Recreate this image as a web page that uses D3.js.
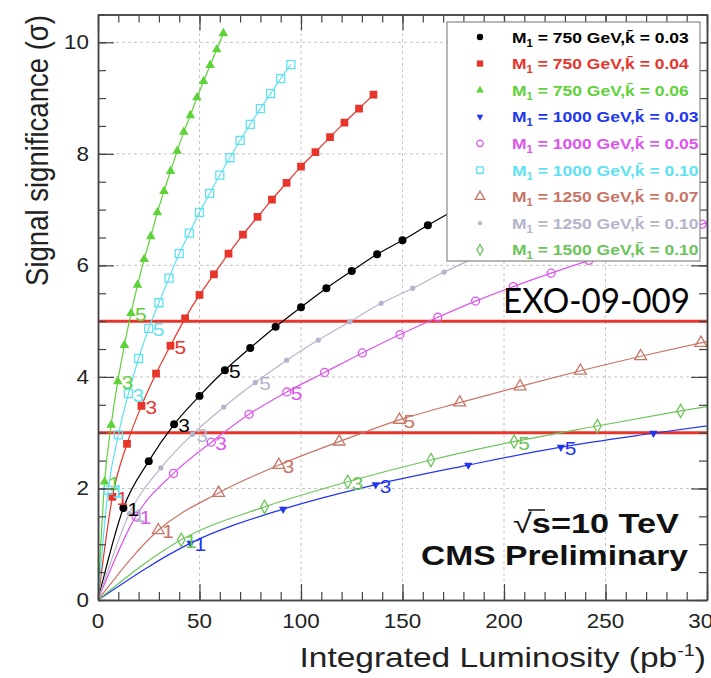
<!DOCTYPE html>
<html><head><meta charset="utf-8">
<script src="https://cdn.jsdelivr.net/npm/d3@7"></script>
<style>body{margin:0;background:#fff} svg{display:block;font-family:"Liberation Sans",Arial,Helvetica,sans-serif}</style>
</head><body><svg id="c" width="711" height="678"></svg>
<script>
// ---------- data ----------
const xTicks = [0, 50, 100, 150, 200, 250, 300];
const yTicks = [0, 2, 4, 6, 8, 10];
const thresholds = [3, 5];
const pointLabels = ["1", "3", "5"];
const labelIndex = [1, 3, 5];

const legendMass  = ["750", "750", "750", "1000", "1000", "1000", "1250", "1250", "1500"];
const legendKappa = ["0.03", "0.04", "0.06", "0.03", "0.05", "0.10", "0.07", "0.10", "0.10"];

const lumi_750_003 = [12.5, 25, 37.5, 50, 62.5, 75, 87.5, 100, 112.5, 125, 137.5, 150, 162.5, 175, 187.5];
const sig_750_003  = [1.65, 2.49, 3.15, 3.66, 4.12, 4.52, 4.90, 5.25, 5.59, 5.90, 6.20, 6.45, 6.72, 6.98, 7.25];

const lumi_750_004 = [7.1, 14.3, 21.4, 28.6, 35.7, 42.9, 50.0, 57.1, 64.3, 71.4, 78.6, 85.7, 92.9, 100.0, 107.1, 114.3, 121.4, 128.6, 135.7];
const sig_750_004  = [1.85, 2.80, 3.48, 4.06, 4.56, 5.05, 5.47, 5.84, 6.21, 6.55, 6.87, 7.18, 7.48, 7.77, 8.03, 8.30, 8.56, 8.81, 9.06];

const lumi_750_006 = [3.25, 6.5, 9.75, 13, 16.25, 19.5, 22.75, 26, 29.25, 32.5, 35.75, 39, 42.25, 45.5, 48.75, 52, 55.25, 58.5, 61.75];
const sig_750_006  = [2.12, 3.14, 3.92, 4.57, 5.14, 5.65, 6.11, 6.52, 6.95, 7.33, 7.69, 8.05, 8.39, 8.69, 9.01, 9.30, 9.59, 9.87, 10.16];

const lumi_1000_003 = [45.6, 91.2, 136.8, 182.4, 228, 273.6, 319.2];
const sig_1000_003  = [1.02, 1.63, 2.07, 2.42, 2.74, 2.99, 3.22];

const lumi_1000_005 = [18.6, 37.2, 55.8, 74.4, 93, 111.6, 130.2, 148.8, 167.4, 186, 204.6, 223.2, 241.8, 260.4, 279, 297.6, 316.2];
const sig_1000_005  = [1.50, 2.27, 2.83, 3.33, 3.73, 4.08, 4.43, 4.76, 5.07, 5.36, 5.62, 5.86, 6.09, 6.31, 6.53, 6.74, 6.95];

const lumi_1000_010 = [5, 10, 15, 20, 25, 30, 35, 40, 45, 50, 55, 60, 65, 70, 75, 80, 85, 90, 95];
const sig_1000_010  = [1.97, 2.96, 3.70, 4.33, 4.87, 5.33, 5.77, 6.21, 6.58, 6.95, 7.29, 7.62, 7.93, 8.24, 8.53, 8.81, 9.08, 9.35, 9.60];

const lumi_1250_007 = [29.7, 59.4, 89.1, 118.8, 148.5, 178.2, 207.9, 237.6, 267.3, 297, 326.7];
const sig_1250_007  = [1.25, 1.92, 2.42, 2.84, 3.23, 3.54, 3.83, 4.11, 4.37, 4.61, 4.84];

const lumi_1250_010 = [15.5, 31, 46.5, 62, 77.5, 93, 108.5, 124, 139.5, 155, 170.5, 186, 201.5];
const sig_1250_010  = [1.55, 2.37, 2.97, 3.46, 3.90, 4.30, 4.66, 4.99, 5.32, 5.59, 5.88, 6.14, 6.40];

const lumi_1500_010 = [41, 82, 123, 164, 205, 246, 287, 328];
const sig_1500_010  = [1.08, 1.67, 2.12, 2.51, 2.84, 3.12, 3.39, 3.64];

// ---------- styles ----------
const series = [
  {L: lumi_750_003,  S: sig_750_003,  color: "#000000", sym: "circle",   fill: true,  size: 50},
  {L: lumi_750_004,  S: sig_750_004,  color: "#e8352c", sym: "square",   fill: true,  size: 60},
  {L: lumi_750_006,  S: sig_750_006,  color: "#5fd23a", sym: "triangle", fill: true,  size: 40},
  {L: lumi_1000_003, S: sig_1000_003, color: "#2236f0", sym: "down",     fill: true,  size: 30},
  {L: lumi_1000_005, S: sig_1000_005, color: "#dc55ee", sym: "circle",   fill: false, size: 50},
  {L: lumi_1000_010, S: sig_1000_010, color: "#5ee2f2", sym: "square",   fill: false, size: 64},
  {L: lumi_1250_007, S: sig_1250_007, color: "#c87466", sym: "triangle", fill: false, size: 60},
  {L: lumi_1250_010, S: sig_1250_010, color: "#b4b4cc", sym: "circle",   fill: true,  size: 22},
  {L: lumi_1500_010, S: sig_1500_010, color: "#6cc45a", sym: "diamond",  fill: false, size: 50}
];

const W = 711, H = 678;
const yMax = 10.5;
const x = d3.scaleLinear().domain([0, 300]).range([98, 707]);
const y = d3.scaleLinear().domain([0, yMax]).range([600, 600 - yMax * 55.77]);
const svg = d3.select("#c");
svg.append("rect").attr("width", W).attr("height", H).attr("fill", "#fff");
const defs = svg.append("defs");
defs.append("clipPath").attr("id", "clip").append("rect")
  .attr("x", x(0)).attr("y", y(yMax)).attr("width", x(300) - x(0)).attr("height", y(0) - y(yMax));
defs.append("clipPath").attr("id", "legclip").append("rect")
  .attr("x", 447).attr("y", 22).attr("width", 253).attr("height", 239);

// grid
const grid = svg.append("g").attr("stroke", "#c4c4c4").attr("stroke-width", 1).attr("stroke-dasharray", "3,3");
xTicks.slice(1, -1).forEach(v => grid.append("line").attr("x1", x(v)).attr("x2", x(v)).attr("y1", y(0)).attr("y2", y(yMax)));
yTicks.slice(1).forEach(v => grid.append("line").attr("x1", x(0)).attr("x2", x(300)).attr("y1", y(v)).attr("y2", y(v)));

// threshold lines
const plot = svg.append("g").attr("clip-path", "url(#clip)");
thresholds.forEach(t => plot.append("line").attr("x1", x(0)).attr("x2", x(300))
  .attr("y1", y(t)).attr("y2", y(t)).attr("stroke", "#e8352c").attr("stroke-width", 3));

// axes (ROOT style: ticks inside, all four sides)
function styleAxis(g) {
  g.select(".domain").attr("stroke", "#444").attr("stroke-width", 1.5);
  g.selectAll(".tick line").attr("stroke", "#444").attr("stroke-width", 1.2);
  g.selectAll("text").remove();
}
const minorX = d3.range(0, 301, 10), minorY = d3.range(0, yMax + 0.01, 0.5);
[[d3.axisBottom, y(0)], [d3.axisTop, y(yMax)]].forEach(([ax, pos]) => {
  svg.append("g").attr("transform", `translate(0,${pos})`).call(ax(x).tickValues(minorX).tickSizeInner(-8).tickSizeOuter(0)).call(styleAxis);
  svg.append("g").attr("transform", `translate(0,${pos})`).call(ax(x).tickValues(xTicks).tickSizeInner(-16).tickSizeOuter(0)).call(styleAxis);
});
[[d3.axisLeft, x(0)], [d3.axisRight, x(300)]].forEach(([ax, pos]) => {
  svg.append("g").attr("transform", `translate(${pos},0)`).call(ax(y).tickValues(minorY).tickSizeInner(-8).tickSizeOuter(0)).call(styleAxis);
  svg.append("g").attr("transform", `translate(${pos},0)`).call(ax(y).tickValues(yTicks).tickSizeInner(-16).tickSizeOuter(0)).call(styleAxis);
});

// tick labels
xTicks.forEach(v => svg.append("text").attr("transform", `translate(${x(v)},628) scale(1.12,1)`)
  .attr("text-anchor", "middle").attr("font-size", 20).attr("fill", "#222").text(v));
yTicks.forEach(v => svg.append("text").attr("transform", `translate(89,${y(v) + 7}) scale(1.12,1)`)
  .attr("text-anchor", "end").attr("font-size", 20).attr("fill", "#222").text(v));

// axis titles
const xt = svg.append("text").attr("transform", "translate(706,667) scale(1.24,1)").attr("text-anchor", "end")
  .attr("font-size", 27).attr("fill", "#222");
xt.append("tspan").text("Integrated Luminosity (pb");
xt.append("tspan").attr("font-size", 16).attr("dy", -11).text("-1");
xt.append("tspan").attr("dy", 11).text(")");
svg.append("text").attr("transform", "translate(48,15) rotate(-90) scale(1.02,1.15)").attr("text-anchor", "end")
  .attr("font-size", 27).attr("fill", "#222").text("Signal significance (σ)");

// markers
function marker(g, s, cx, cy, sizeMul) {
  const types = {circle: d3.symbolCircle, square: d3.symbolSquare, triangle: d3.symbolTriangle, down: d3.symbolTriangle, diamond: d3.symbolDiamond};
  const p = g.append("path").attr("d", d3.symbol(types[s.sym], s.size * (sizeMul || 1))())
    .attr("transform", `translate(${cx},${cy})` + (s.sym === "down" ? " rotate(180)" : ""));
  if (s.fill) p.attr("fill", s.color).attr("stroke", "none");
  else p.attr("fill", "none").attr("stroke", s.color).attr("stroke-width", 1.3);
}

const line = d3.line().x(d => x(d[0])).y(d => y(d[1])).curve(d3.curveMonotoneX);
series.forEach(s => {
  const pts = [[0, 0]].concat(s.L.map((l, i) => [l, s.S[i]]));
  plot.append("path").attr("d", line(pts)).attr("fill", "none").attr("stroke", s.color).attr("stroke-width", 1.2);
  s.L.forEach((l, i) => marker(plot, s, x(l), y(s.S[i])));
});
series.forEach(s => {
  labelIndex.forEach((k, j) => {
    plot.append("text").attr("transform", `translate(${x(s.L[k - 1]) + 4},${y(s.S[k - 1]) + 8}) scale(1.1,1)`)
      .attr("font-size", 19).attr("fill", s.color).text(pointLabels[j]);
  });
});

// legend
const leg = svg.append("g");
leg.append("rect").attr("x", 447).attr("y", 22).attr("width", 253).attr("height", 239)
  .attr("fill", "#fff").attr("stroke", "#888").attr("stroke-width", 1.2);
const legText = leg.append("g").attr("clip-path", "url(#legclip)");
series.forEach((s, i) => {
  const cy = 37 + i * 26.6;
  marker(leg, s, 480, cy, 0.65);
  const t = legText.append("text").attr("transform", `translate(512,${cy + 5.5}) scale(1.13,1)`)
    .attr("font-size", 15.5).attr("font-weight", "bold").attr("fill", s.color);
  t.append("tspan").text("M");
  t.append("tspan").attr("font-size", 10).attr("dy", 4).text("1");
  t.append("tspan").attr("dy", -4).text(` = ${legendMass[i]} GeV,k\u0304 = ${legendKappa[i]}`);
});

// annotations
svg.append("text").attr("x", 503).attr("y", 313).attr("font-family", "Lato, 'Open Sans', sans-serif")
  .attr("font-size", 35).attr("fill", "#000").attr("textLength", 187).attr("lengthAdjust", "spacingAndGlyphs").text("EXO-09-009");
const rs = svg.append("text").attr("x", 513).attr("y", 533).attr("font-size", 27).attr("font-weight", "bold")
  .attr("fill", "#111").attr("textLength", 166).attr("lengthAdjust", "spacingAndGlyphs");
rs.append("tspan").attr("font-weight", "normal").text("\u221A");
rs.append("tspan").text("s=10 TeV");
svg.append("line").attr("x1", 528).attr("x2", 545).attr("y1", 510).attr("y2", 510).attr("stroke", "#111").attr("stroke-width", 1.5);
svg.append("text").attr("x", 421).attr("y", 565).attr("font-size", 28).attr("font-weight", "bold")
  .attr("fill", "#111").attr("textLength", 267).attr("lengthAdjust", "spacingAndGlyphs").text("CMS Preliminary");
</script></body></html>
